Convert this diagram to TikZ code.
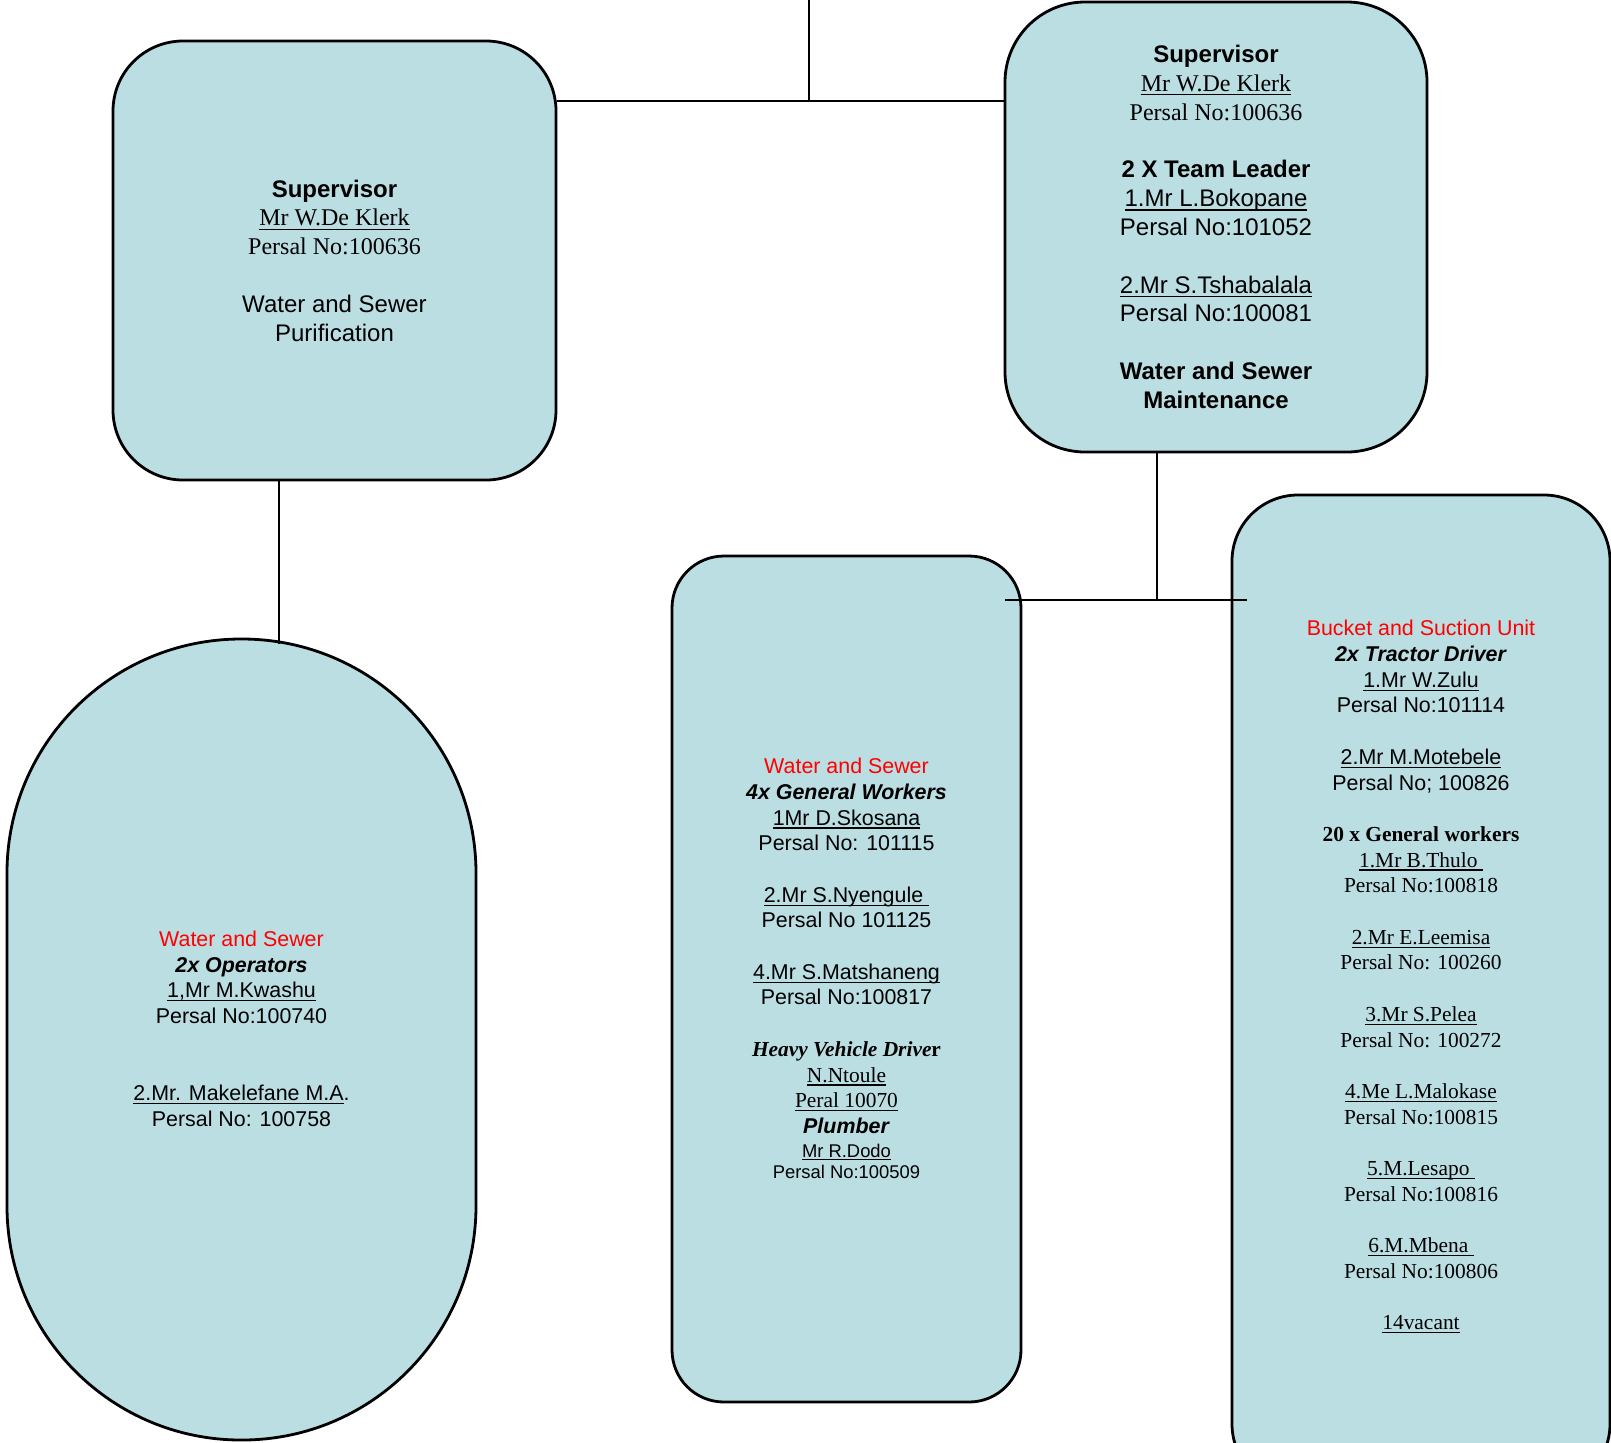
\documentclass[tikz,border=0pt]{standalone}
\usepackage{fontspec}
\setmainfont{Liberation Serif}
\setsansfont{Liberation Sans}
\definecolor{boxblue}{RGB}{187,222,227}
\newcommand{\uln}[1]{\sbox0{#1}\rlap{\rule[-0.16em]{\wd0}{0.05em}}\usebox0}
\newcommand{\padlow}[1]{\rule[-#1]{0pt}{0pt}}
\tikzset{
  orgbox/.style={draw, line width=1.4pt, fill=boxblue, align=center, inner sep=0pt},
  bigtext/.style={font=\sffamily\fontsize{12}{14.4}\selectfont},
  smalltext/.style={font=\sffamily\fontsize{10.7}{12.85}\selectfont},
  link/.style={line width=1.4pt}
}

\begin{document}
\begin{tikzpicture}[x=0.5pt,y=-0.5pt]
\useasboundingbox (0,0) rectangle (1611,1442);
\node[orgbox, bigtext, minimum width=221.5pt, minimum height=219.5pt, rounded corners=35pt] (purif) at (334.5,260.5) {\textbf{Supervisor}\\ {\rmfamily\uln{Mr W.De Klerk}}\\ {\rmfamily Persal No:100636}\\[14.4pt] Water and Sewer\\ Purification};
\node[orgbox, bigtext, minimum width=211pt, minimum height=225pt, rounded corners=40pt] (maint) at (1216,227) {\textbf{Supervisor}\\ {\rmfamily\uln{Mr W.De Klerk}}\\ {\rmfamily Persal No:100636}\\[14.4pt]
  \textbf{2 X Team Leader}\\ \uln{1.Mr L.Bokopane}\\ Persal No:101052\\[14.4pt]
  \uln{2.Mr S.Tshabalala}\\ Persal No:100081\\[14.4pt]
  \textbf{Water and Sewer}\\ \textbf{Maintenance}};
\node[orgbox, smalltext, minimum width=234.5pt, minimum height=400.5pt, rounded corners=117pt] (operators) at (241.5,1039.5) {{\color{red}Water and Sewer}\\ \textbf{\textit{2x Operators}}\\ \uln{1,Mr M.Kwashu}\\ Persal No:100740\\[25.7pt]
  \uln{2.Mr. Makelefane M.A}.\\ Persal No: 100758\padlow{11pt}};
\node[orgbox, smalltext, minimum width=174.5pt, minimum height=423pt, rounded corners=26pt] (general) at (846.5,979) {{\color{red}Water and Sewer}\\ \textbf{\textit{4x General Workers}}\\ \uln{1Mr D.Skosana}\\ Persal No: 101115\\[12.85pt]
  \uln{2.Mr S.Nyengule\ }\\ Persal No 101125\\[12.85pt]
  \uln{4.Mr S.Matshaneng}\\ Persal No:100817\\[12.85pt]
  {\rmfamily\bfseries\itshape Heavy Vehicle Drive\upshape r}\\ {\rmfamily\uln{N.Ntoule}}\\ {\rmfamily\uln{Peral 10070}}\\
  \textbf{\textit{Plumber}}\\[-1pt] {\fontsize{9.2}{11}\selectfont\uln{Mr R.Dodo}}\\[-2pt] {\fontsize{9.2}{11}\selectfont Persal No:100509}\padlow{10.5pt}};
\node[orgbox, smalltext, minimum width=189pt, minimum height=497.5pt, rounded corners=33pt] (bucket) at (1421,992.5) {{\color{red}Bucket and Suction Unit}\\ \textbf{\textit{2x Tractor Driver}}\\ \uln{1.Mr W.Zulu}\\ Persal No:101114\\[12.85pt]
  \uln{2.Mr M.Motebele}\\ Persal No; 100826\\[12.85pt]
  {\rmfamily\bfseries 20 x General workers}\\ {\rmfamily\uln{1.Mr B.Thulo\ }}\\ {\rmfamily Persal No:100818}\\[12.85pt]
  {\rmfamily\uln{2.Mr E.Leemisa}}\\ {\rmfamily Persal No: 100260}\\[12.85pt]
  {\rmfamily\uln{3.Mr S.Pelea}}\\ {\rmfamily Persal No: 100272}\\[12.85pt]
  {\rmfamily\uln{4.Me L.Malokase}}\\ {\rmfamily Persal No:100815}\\[12.85pt]
  {\rmfamily\uln{5.M.Lesapo\ }}\\ {\rmfamily Persal No:100816}\\[12.85pt]
  {\rmfamily\uln{6.M.Mbena\ }}\\ {\rmfamily Persal No:100806}\\[12.85pt]
  {\rmfamily\uln{14vacant}}\padlow{17.5pt}};
\coordinate (top) at (809,0);
\coordinate (j1) at (809,101);
\coordinate (a1) at (279,480);
\coordinate (j2) at (1157,600);
\coordinate (j2l) at (1005,600);
\coordinate (j2r) at (1247,600);
\draw[link] (top) -- (j1);
\draw[link] (purif.east |- j1) -- (maint.west |- j1);
\draw[link] (purif.south -| a1) -- ([yshift=-3pt]operators.north -| a1);
\draw[link] (maint.south -| j2) -- (j2);
\draw[link] (j2l) -- (j2r);
\end{tikzpicture}
\end{document}
